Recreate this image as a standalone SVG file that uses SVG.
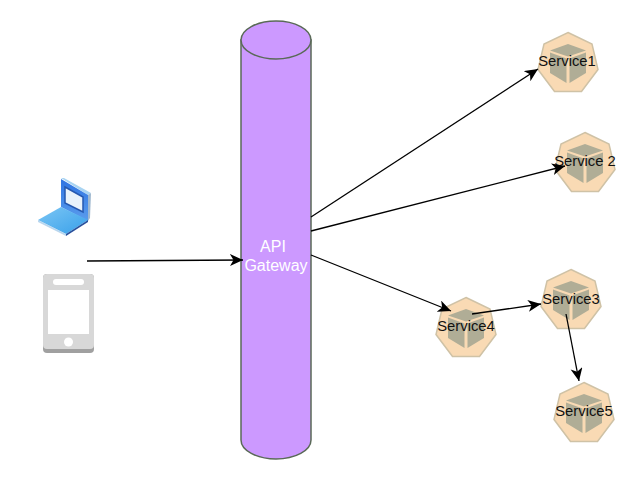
<svg xmlns="http://www.w3.org/2000/svg" width="642" height="495" viewBox="0 0 642 495">
<style>
.lbl{font-family:"Liberation Sans",Arial,sans-serif;font-size:14.800px;fill:#111;text-anchor:middle}
.api{font-family:"Liberation Sans",Arial,sans-serif;font-size:16px;fill:#fff;text-anchor:middle}
.c{fill:none;stroke:#000;stroke-width:1.300;marker-end:url(#a)}
</style>
<defs>
<marker id="a" markerUnits="userSpaceOnUse" markerWidth="16" markerHeight="14" refX="13" refY="6" orient="auto"><path d="M0 0L13 6L0 12L3.500 6Z" fill="#000"/></marker>
<g id="svc">
<path d="M0-30.500L24-19L30 6.500L13.500 28.500L-13.500 28.500L-30 6.500L-24-19Z" fill="#f9dab4" stroke="#cfc2a6" stroke-width="1.500"/>
<path d="M0-19L18-12.500L0-6.500L-18-12.500Z" fill="#b0ad96"/>
<path d="M-18-10.500L-1.500-4.500L-1.500 20L-18 10Z" fill="#b0ad96"/>
<path d="M18-10.500L1.500-4.500L1.500 20L18 10Z" fill="#b0ad96"/>
</g>
<linearGradient id="lt" x1="0" y1="0" x2="0" y2="1"><stop offset="0" stop-color="#2f74e2"/><stop offset="1" stop-color="#5a9cec"/></linearGradient>
<linearGradient id="lb" x1="0" y1="0" x2="1" y2="1"><stop offset="0" stop-color="#7cc6f4"/><stop offset="1" stop-color="#38a0ea"/></linearGradient>
</defs>
<rect width="642" height="495" fill="#fff"/>
<g id="laptop">
<path d="M61 178L64 178L91 193L88 195Z" fill="#a9d4f2"/>
<path d="M61 179L88 195L88 221L61 207Z" fill="url(#lt)"/>
<path d="M88 195L91 193L90 218L88 221Z" fill="#9fb8cf"/>
<path d="M65 187L83 197L83 212L65 203Z" fill="#e8f2fb" stroke="#2558b0" stroke-width="1.500"/>
<path d="M61 207L88 220L66 234L38 220Z" fill="url(#lb)"/>
<path d="M38 220L66 234L66 236L38 222Z" fill="#b9d6ee"/>
<path d="M66 234L88 220L88 222L66 236Z" fill="#28509c"/>
</g>
<g id="phone">
<rect x="43" y="274" width="51" height="79" rx="4" fill="#a0a0a0"/>
<rect x="43" y="274" width="51" height="75" rx="4" fill="#d8d8d8"/>
<rect x="48" y="290" width="41" height="44" fill="#fff"/>
<rect x="53" y="279" width="31" height="6" rx="3" fill="#fff"/>
<circle cx="68.500" cy="342" r="4.500" fill="#fff"/>
</g>
<g id="api-gateway">
<path d="M241 40V440A35 19 0 0 0 311 440V40Z" fill="#cc99ff" stroke="#5a6a58" stroke-width="1.500"/>
<ellipse cx="276" cy="40" rx="35" ry="19" fill="#cc99ff" stroke="#5a6a58" stroke-width="1.500"/>
<text class="api" x="273" y="252">API</text>
<text class="api" x="276" y="271">Gateway</text>
</g>
<g id="service1"><use href="#svc" x="568" y="63"/><text class="lbl" x="567" y="66">Service1</text></g>
<g id="service2"><use href="#svc" x="585" y="163"/><text class="lbl" x="585" y="166">Service 2</text></g>
<g id="service3"><use href="#svc" x="571" y="300"/><text class="lbl" x="571" y="304">Service3</text></g>
<g id="service4"><use href="#svc" x="466" y="328"/><text class="lbl" x="466" y="331">Service4</text></g>
<g id="service5"><use href="#svc" x="584" y="413"/><text class="lbl" x="584" y="416">Service5</text></g>
<g id="connectors">
<path class="c" d="M87 261L243 260"/>
<path class="c" d="M311 217L538 69"/>
<path class="c" d="M311 231L565 166"/>
<path class="c" d="M311 255L451 311"/>
<path class="c" d="M472 314L541 304"/>
<path class="c" d="M566 314L579 381"/>
</g>
</svg>
